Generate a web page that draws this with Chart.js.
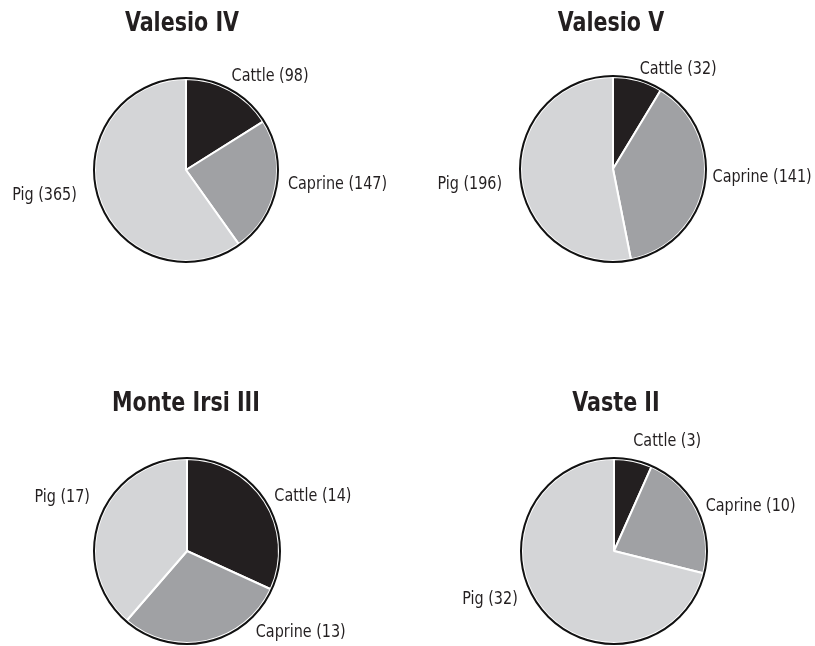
<!DOCTYPE html>
<html lang="en">
<head>
    <meta charset="UTF-8">
    <title>Faunal remains by site</title>
    <script src="https://cdn.jsdelivr.net/npm/chart.js"></script>
    <style>
        body {
            margin: 0;
            background: #fff;
        }
        #board {
            position: relative;
            width: 815px;
            height: 646px;
        }
        #board canvas {
            position: absolute;
        }
    </style>
</head>
<body>
    <div id="board">
        <canvas id="pie0" width="407" height="323" style="left:0;top:0"></canvas>
        <canvas id="pie1" width="407" height="323" style="left:408px;top:0"></canvas>
        <canvas id="pie2" width="407" height="323" style="left:0;top:323px"></canvas>
        <canvas id="pie3" width="407" height="323" style="left:408px;top:323px"></canvas>
    </div>

    <script>
        // species counts per site
        var species = ['Cattle', 'Caprine', 'Pig'];
        var sites = ['Valesio IV', 'Valesio V', 'Monte Irsi III', 'Vaste II'];
        var valesio4 = [98, 147, 365];
        var valesio5 = [32, 141, 196];
        var monteIrsi3 = [14, 13, 17];
        var vaste2 = [3, 10, 32];
        var siteCounts = [valesio4, valesio5, monteIrsi3, vaste2];

        var sliceColors = ['#231f20', '#a0a1a4', '#d4d5d7'];
        var fontStack = "'Liberation Sans Narrow', 'DejaVu Sans Condensed', 'Arial Narrow', sans-serif";

        // where each pie sits inside its 407x323 cell, plus label placement
        // (angle in degrees clockwise from 12 o'clock, distance from centre)
        var panels = [
            { cx: 186, cy: 170, r: 91, titleX: 182, titleY: 24,
              labelAngle: [26, 98, 257], labelDist: [104, 103, 112] },
            { cx: 613 - 408, cy: 169, r: 92, titleX: 203, titleY: 24,
              labelAngle: [15, 95, 262], labelDist: [103, 100, 112] },
            { cx: 187, cy: 228, r: 92, titleX: 186, titleY: 81,
              labelAngle: [58, 140, 299], labelDist: [103, 107, 111] },
            { cx: 614 - 408, cy: 228, r: 92, titleX: 208, titleY: 81,
              labelAngle: [10, 64, 243], labelDist: [111, 102, 108] }
        ];

        // condensed text: squeeze the glyphs horizontally around the anchor
        function squeezedText(ctx, text, x, y, sx) {
            ctx.save();
            ctx.translate(x, y);
            ctx.scale(sx, 1);
            ctx.fillText(text, 0, 0);
            ctx.restore();
        }

        // title, outer ring and slice labels
        var pieDecor = {
            id: 'pieDecor',
            afterDatasetsDraw: function (chart, args, opts) {
                var ctx = chart.ctx;
                var arc = chart.getDatasetMeta(0).data[0];
                var p = opts.panel;

                ctx.save();
                ctx.beginPath();
                ctx.arc(arc.x, arc.y, arc.outerRadius + 1, 0, Math.PI * 2);
                ctx.lineWidth = 2;
                ctx.strokeStyle = '#111';
                ctx.stroke();

                ctx.fillStyle = '#231f20';
                ctx.font = 'bold 27px ' + fontStack;
                ctx.textAlign = 'center';
                ctx.textBaseline = 'middle';
                squeezedText(ctx, opts.title, p.titleX, p.titleY, 0.85);

                ctx.font = '17px ' + fontStack;
                var values = chart.data.datasets[0].data;
                chart.data.labels.forEach(function (name, i) {
                    var a = p.labelAngle[i] * Math.PI / 180;
                    var x = arc.x + Math.sin(a) * p.labelDist[i];
                    var y = arc.y - Math.cos(a) * p.labelDist[i];
                    ctx.textAlign = Math.sin(a) >= 0 ? 'left' : 'right';
                    squeezedText(ctx, name + ' (' + values[i] + ')', x, y, 0.94);
                });
                ctx.restore();
            }
        };

        sites.forEach(function (site, k) {
            var p = panels[k];
            var w = 407, h = 323;
            new Chart(document.getElementById('pie' + k), {
                type: 'pie',
                data: {
                    labels: species,
                    datasets: [{
                        data: siteCounts[k],
                        backgroundColor: sliceColors,
                        borderColor: '#ffffff',
                        borderWidth: 2
                    }]
                },
                options: {
                    responsive: false,
                    animation: false,
                    devicePixelRatio: 1,
                    layout: {
                        padding: {
                            left: p.cx - p.r - 1,
                            right: w - p.cx - p.r - 1,
                            top: p.cy - p.r - 1,
                            bottom: h - p.cy - p.r - 1
                        }
                    },
                    plugins: {
                        legend: { display: false },
                        tooltip: { enabled: false },
                        pieDecor: { title: site, panel: p }
                    }
                },
                plugins: [pieDecor]
            });
        });
    </script>
</body>
</html>
